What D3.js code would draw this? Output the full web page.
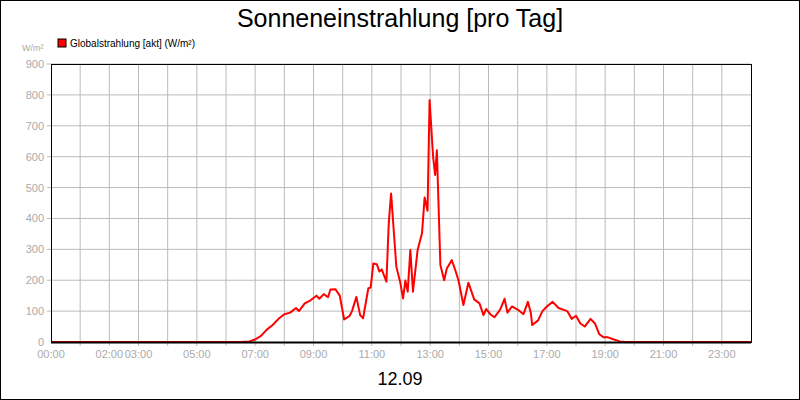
<!DOCTYPE html>
<html><head><meta charset="utf-8">
<script src="https://cdn.jsdelivr.net/npm/d3@7"></script>
<style>body{margin:0;background:#fff;font-family:"Liberation Sans",Arial,sans-serif}</style>
</head><body><div id="chart"></div>
<script>
var hours = [0,6.5,6.8,7.0,7.2,7.4,7.6,7.8,8.0,8.2,8.4,8.5,8.7,8.9,9.1,9.2,9.35,9.5,9.58,9.75,9.9,10.05,10.15,10.24,10.32,10.47,10.6,10.7,10.88,10.96,11.05,11.17,11.26,11.34,11.5,11.58,11.66,11.84,11.98,12.07,12.15,12.23,12.32,12.41,12.57,12.72,12.81,12.91,12.98,13.1,13.17,13.23,13.35,13.48,13.57,13.74,13.86,13.97,14.14,14.31,14.51,14.69,14.83,14.92,15.06,15.2,15.4,15.55,15.65,15.8,16.0,16.2,16.35,16.45,16.5,16.7,16.85,17.0,17.2,17.4,17.7,17.85,18.0,18.15,18.3,18.5,18.65,18.8,18.95,19.1,19.3,19.5,19.7,24];
var values = [0,0,2,8,20,40,55,75,90,95,110,100,125,135,150,140,155,145,170,171,150,73,79,85,100,146,87,77,174,176,254,252,228,235,195,384,481,244,190,141,199,163,298,163,298,352,468,425,783,600,541,621,249,200,238,265,233,200,120,192,138,125,87,107,90,80,105,140,95,115,105,90,130,95,55,70,100,115,130,110,100,75,85,60,50,75,60,25,15,15,8,2,0,0];
var tickHours = [0,2,3,5,7,9,11,13,15,17,19,21,23];
var yTicks = d3.range(0, 901, 100);

var svg = d3.select("#chart").append("svg").attr("width", 800).attr("height", 400);
svg.append("rect").attr("x", 0.5).attr("y", 0.5).attr("width", 799).attr("height", 399)
    .attr("fill", "#fff").attr("stroke", "#000");

var pLeft = 51, pRight = 751, pTop = 64, pBottom = 342;
var x = d3.scaleLinear().domain([0, 24]).range([pLeft, pRight]);
var y = d3.scaleLinear().domain([0, 900]).range([pBottom, pTop]);

// grid
svg.append("g").selectAll("line").data(d3.range(1, 24)).enter().append("line")
    .attr("x1", d => x(d)).attr("x2", d => x(d)).attr("y1", pTop).attr("y2", pBottom + 4)
    .attr("stroke", "#bbb");
svg.append("g").selectAll("line").data(yTicks.slice(1)).enter().append("line")
    .attr("x1", pLeft - 4).attr("x2", pRight).attr("y1", d => y(d)).attr("y2", d => y(d))
    .attr("stroke", "#bbb");

svg.append("g").selectAll("text").data(yTicks).enter().append("text")
    .attr("x", pLeft - 7).attr("y", d => y(d) + 4).attr("text-anchor", "end")
    .attr("font-size", 11).attr("fill", "#aaa").text(d => d);
svg.append("g").selectAll("text").data(tickHours).enter().append("text")
    .attr("x", d => x(d)).attr("y", pBottom + 16).attr("text-anchor", "middle")
    .attr("font-size", 11).attr("fill", "#aaa").text(d => (d < 10 ? "0" : "") + d + ":00");

var line = d3.line().x((d, i) => x(hours[i])).y(d => y(d));
svg.append("path").datum(values).attr("d", line).attr("fill", "none")
    .attr("stroke", "#f00").attr("stroke-width", 2).attr("stroke-linejoin", "round");

svg.append("line").attr("x1", pLeft).attr("x2", pRight).attr("y1", pBottom + 0.5).attr("y2", pBottom + 0.5)
    .attr("stroke", "#000").attr("stroke-width", 2);
svg.append("rect").attr("x", pLeft + 0.5).attr("y", pTop + 0.5).attr("width", pRight - pLeft).attr("height", pBottom - pTop)
    .attr("fill", "none").attr("stroke", "#000");

svg.append("text").attr("x", 400).attr("y", 27).attr("text-anchor", "middle")
    .attr("font-size", 25).text("Sonneneinstrahlung [pro Tag]");
svg.append("text").attr("x", 400).attr("y", 385).attr("text-anchor", "middle")
    .attr("font-size", 18).text("12.09");
svg.append("text").attr("x", 22).attr("y", 51).attr("font-size", 9).attr("fill", "#aaa").text("W/m²");
svg.append("rect").attr("x", 58).attr("y", 39).attr("width", 8).attr("height", 8)
    .attr("fill", "#f00").attr("stroke", "#000");
svg.append("text").attr("x", 70).attr("y", 47).attr("font-size", 10).text("Globalstrahlung [akt] (W/m²)");
</script></body></html>
